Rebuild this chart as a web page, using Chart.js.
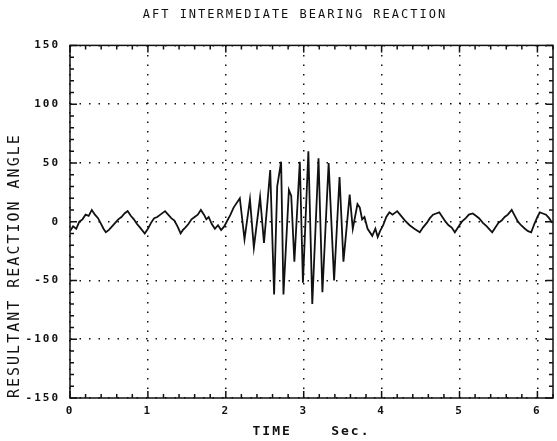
<!DOCTYPE html>
<html>
<head>
<meta charset="utf-8">
<script src="https://cdn.jsdelivr.net/npm/chart.js@4/dist/chart.umd.min.js"></script>
<style>
  html, body { margin: 0; padding: 0; background: #fff; }
  #wrap { width: 557px; height: 441px; }
</style>
</head>
<body>
<div id="wrap"><canvas id="c" width="557" height="441"></canvas></div>
<script>
// time in seconds
var timeSec = [
  0.00, 0.04, 0.08, 0.12, 0.16, 0.20, 0.24, 0.28, 0.32, 0.36, 0.40, 0.43, 0.46, 0.50, 0.54, 0.58,
  0.62, 0.66, 0.70, 0.74, 0.78, 0.82, 0.86, 0.90, 0.96, 1.00, 1.04, 1.08, 1.12, 1.16, 1.22, 1.26,
  1.30, 1.34, 1.38, 1.42, 1.45, 1.48, 1.52, 1.56, 1.60, 1.64, 1.68, 1.72, 1.75, 1.78, 1.82, 1.86,
  1.90, 1.94, 1.98, 2.02, 2.06, 2.10, 2.18, 2.24, 2.31, 2.36, 2.44, 2.49, 2.57, 2.62, 2.66, 2.71,
  2.74, 2.81, 2.84, 2.88, 2.95, 2.99, 3.06, 3.11, 3.19, 3.24, 3.32, 3.39, 3.46, 3.51, 3.59, 3.63,
  3.69, 3.72, 3.75, 3.78, 3.82, 3.88, 3.92, 3.95, 3.98, 4.02, 4.06, 4.10, 4.14, 4.20, 4.25, 4.30,
  4.36, 4.42, 4.49, 4.53, 4.58, 4.62, 4.66, 4.70, 4.74, 4.78, 4.82, 4.86, 4.90, 4.94, 4.98, 5.03,
  5.08, 5.12, 5.17, 5.21, 5.25, 5.30, 5.35, 5.39, 5.42, 5.46, 5.50, 5.54, 5.58, 5.62, 5.67, 5.71,
  5.75, 5.79, 5.84, 5.88, 5.92, 5.96, 6.00, 6.03, 6.07, 6.11, 6.15, 6.19
];
// resultant reaction angle
var angle = [
  -8, -4, -6, 0, 2, 6, 5, 10, 6, 3, -2, -6, -9, -7, -4, -1,
  2, 4, 7, 9, 5, 2, -2, -5, -10, -6, -1, 3, 4, 6, 9, 6,
  3, 1, -4, -10, -7, -5, -2, 2, 4, 6, 10, 6, 2, 4, -2, -6,
  -3, -7, -4, 1, 6, 12, 20, -15, 19, -22, 21, -18, 44, -62, 30, 51,
  -62, 27, 22, -34, 51, -52, 60, -70, 54, -60, 50, -50, 38, -34, 23, -6,
  15, 12, 2, 4, -6, -12, -6, -13, -8, -3, 4, 8, 6, 9, 5, 1,
  -3, -6, -9, -5, -1, 3, 6, 7, 8, 4, 0, -3, -5, -9, -5, 0,
  3, 6, 7, 5, 3, -1, -4, -7, -9, -5, -1, 1, 4, 6, 10, 5,
  0, -3, -6, -8, -9, -2, 4, 8, 7, 6, 3, -1
];
var xMin = 0, xMax = 6.2;
var yMin = -150, yMax = 150;

var ink = '#111';
var mono = '"DejaVu Sans Mono", monospace';

// plotter style: wide lettering, solid frame and inward minor ticks
var plotterLook = {
  id: 'plotterLook',
  beforeDraw: function (chart) {
    chart.ctx.letterSpacing = '2px';
  },
  afterDatasetsDraw: function (chart) {
    var ctx = chart.ctx, a = chart.chartArea, x = chart.scales.x, y = chart.scales.y;
    ctx.save();
    ctx.strokeStyle = ink;
    ctx.lineWidth = 1.5;
    ctx.strokeRect(a.left, a.top, a.right - a.left, a.bottom - a.top);
    ctx.beginPath();
    var i, v, p, len;
    for (i = 0; i * 0.2 <= x.max + 1e-9; i++) {
      v = i * 0.2;
      p = x.getPixelForValue(v);
      len = (i % 5 === 0) ? 7 : 4;
      ctx.moveTo(p, a.bottom); ctx.lineTo(p, a.bottom - len);
      ctx.moveTo(p, a.top); ctx.lineTo(p, a.top + len);
    }
    for (v = y.min; v <= y.max; v += 10) {
      p = y.getPixelForValue(v);
      len = (v % 50 === 0) ? 7 : 4;
      ctx.moveTo(a.left, p); ctx.lineTo(a.left + len, p);
      ctx.moveTo(a.right, p); ctx.lineTo(a.right - len, p);
    }
    ctx.stroke();
    ctx.restore();
  }
};

var points = timeSec.map(function (t, i) { return { x: t, y: angle[i] }; });

new Chart(document.getElementById('c'), {
  type: 'line',
  data: {
    datasets: [{
      data: points,
      borderColor: ink,
      borderWidth: 1.8,
      pointRadius: 0,
      tension: 0,
      fill: false
    }]
  },
  options: {
    responsive: false,
    animation: false,
    layout: { padding: { left: 0, right: 4, top: 0, bottom: 0 } },
    plugins: {
      legend: { display: false },
      tooltip: { enabled: false },
      title: {
        display: true,
        // leading blanks push the centred title right, as in the original plot
        text: '    AFT INTERMEDIATE BEARING REACTION',
        color: ink,
        font: { family: mono, size: 12, weight: 'normal' },
        padding: { top: 8, bottom: 23 }
      }
    },
    scales: {
      x: {
        type: 'linear',
        min: xMin,
        max: xMax,
        afterFit: function (s) { s.height = 43; },
        ticks: {
          stepSize: 1,
          includeBounds: false,
          padding: 7,
          color: ink,
          font: { family: mono, size: 11, weight: 'bold' }
        },
        grid: { color: ink, lineWidth: 1.5, drawTicks: false },
        border: { display: false, dash: [1.5, 8] },
        title: {
          display: true,
          text: 'TIME    Sec.',
          color: ink,
          font: { family: mono, size: 13, weight: 'bold' },
          padding: { top: 0, bottom: 2 }
        }
      },
      y: {
        min: yMin,
        max: yMax,
        afterFit: function (s) { s.width = 70; },
        ticks: {
          stepSize: 50,
          padding: 10,
          color: ink,
          font: { family: mono, size: 11, weight: 'bold' }
        },
        grid: { color: ink, lineWidth: 1.5, drawTicks: false },
        border: { display: false, dash: [1.5, 8] },
        title: {
          display: true,
          text: 'RESULTANT REACTION ANGLE',
          align: 'start',
          color: ink,
          font: { family: mono, size: 15, weight: 'normal' },
          padding: { top: 6, bottom: 0 }
        }
      }
    }
  },
  plugins: [plotterLook]
});
</script>
</body>
</html>
